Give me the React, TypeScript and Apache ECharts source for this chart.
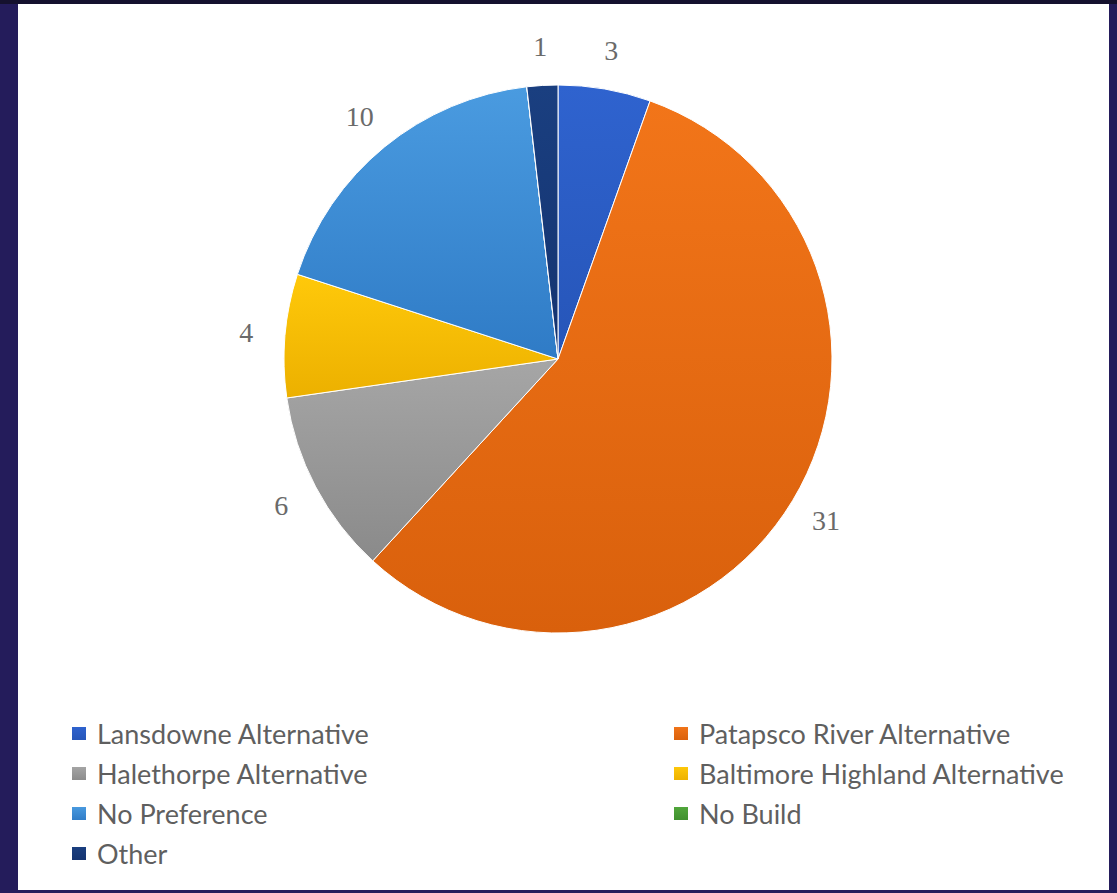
import React, { useEffect, useRef } from "react";
import * as echarts from "echarts";

const categories = [
  "Lansdowne Alternative",
  "Patapsco River Alternative",
  "Halethorpe Alternative",
  "Baltimore Highland Alternative",
  "No Preference",
  "No Build",
  "Other",
];
const values = [3, 31, 6, 4, 10, 0, 1];
const topColors = ["#2f63cf", "#f27519", "#a6a6a6", "#ffc90a", "#4a9be0", "#52a83c", "#1a3f80"];
const bottomColors = ["#2655b8", "#d9600c", "#8a8a8a", "#ecb000", "#2f7bc6", "#3f8f2e", "#143370"];
const leftLegend = ["Lansdowne Alternative", "Halethorpe Alternative", "No Preference", "Other"];
const rightLegend = ["Patapsco River Alternative", "Baltimore Highland Alternative", "No Build"];

export default function App() {
  const ref = useRef<HTMLDivElement>(null);
  useEffect(() => {
    if (!ref.current) return;
    const chart = echarts.init(ref.current, undefined, { renderer: "svg" });
    const legendText = {
      fontFamily: "Lato, 'Open Sans', sans-serif",
      fontSize: 27,
      lineHeight: 26,
      color: "#5f5f5f",
      padding: [0, 0, 0, 5],
    };
    const gradient = (i: number) =>
      new echarts.graphic.LinearGradient(0, 0, 0, 1, [
        { offset: 0, color: topColors[i] },
        { offset: 1, color: bottomColors[i] },
      ]);
    chart.setOption({
      animation: false,
      backgroundColor: "#241c5b",
      graphic: [
        { type: "rect", shape: { x: 0, y: 0, width: 1117, height: 4 }, style: { fill: "#15112e" }, z: -1 },
        { type: "rect", shape: { x: 18, y: 4, width: 1091, height: 886 }, style: { fill: "#ffffff" }, z: -1 },
      ],
      legend: [
        {
          data: leftLegend,
          orient: "vertical",
          left: 65,
          top: 715,
          itemWidth: 16,
          itemHeight: 15,
          itemGap: 13,
          icon: "rect",
          textStyle: legendText,
        },
        {
          data: rightLegend,
          orient: "vertical",
          left: 667,
          top: 715,
          itemWidth: 16,
          itemHeight: 15,
          itemGap: 13,
          icon: "rect",
          textStyle: legendText,
        },
      ],
      series: [
        {
          type: "pie",
          center: [558, 359],
          radius: 274,
          startAngle: 90,
          clockwise: true,
          itemStyle: { borderColor: "#ffffff", borderWidth: 1 },
          label: { show: false },
          labelLine: { show: false },
          data: categories.map((name, i) => ({
            name,
            value: values[i],
            itemStyle: { color: gradient(i) },
          })),
        },
        {
          type: "pie",
          center: [558, 359],
          radius: [274, 346],
          startAngle: 90,
          clockwise: true,
          silent: true,
          z: 1,
          itemStyle: { color: "rgba(0,0,0,0)", borderWidth: 0 },
          label: {
            show: true,
            position: "inside",
            formatter: "{c}",
            fontFamily: "'Liberation Serif', 'DejaVu Serif', serif",
            fontSize: 28,
            color: "#6a6a6a",
          },
          labelLine: { show: false },
          data: categories.map((name, i) => ({
            name,
            value: values[i],
            label: { show: values[i] > 0 },
            itemStyle: { color: "rgba(0,0,0,0)" },
          })),
        },
      ],
    });
    return () => chart.dispose();
  }, []);
  return (
    <div
      ref={ref}
      style={{ position: "fixed", left: 0, top: 0, width: 1117, height: 893 }}
    />
  );
}
